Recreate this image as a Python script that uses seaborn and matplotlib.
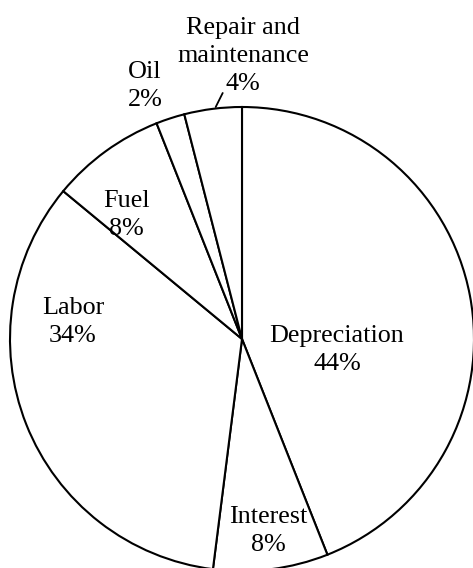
import matplotlib
matplotlib.use("Agg")
import matplotlib.pyplot as plt
import seaborn as sns

# ---- Data ----
CATEGORIES = ["Depreciation", "Interest", "Labor", "Fuel", "Oil", "Repair and\nmaintenance"]
SHARES = [44, 8, 34, 8, 2, 4]

# label block centres (pixel coords, origin bottom-left)
LABEL_POS = [(337, 568 - 350), (268, 568 - 531), (73, 568 - 322),
             (126, 568 - 215), (145, 568 - 86), (243, 568 - 56)]

W, H = 473, 568

sns.set_style("white")
plt.rcParams['font.family'] = ['Liberation Serif', 'DejaVu Serif']

fig = plt.figure(figsize=(W / 100, H / 100), dpi=100)
ax = fig.add_axes([0, 0, 1, 1])

ax.pie(SHARES, startangle=90, counterclock=False,
       center=(242, H - 339), radius=232,
       colors=["white"] * len(SHARES),
       wedgeprops=dict(edgecolor="black", linewidth=1.5))

for cat, val, (x, y) in zip(CATEGORIES, SHARES, LABEL_POS):
    ax.text(x, y, f"{cat}\n{val}%", ha="center", va="center",
            fontsize=18.8, linespacing=1.35, color="black")

# leader line for the small repair slice
ax.plot([215.7, 222.7], [H - 107, H - 93], color="black", linewidth=1.3)

ax.set_xlim(0, W)
ax.set_ylim(0, H)
ax.set_aspect("equal")
ax.axis("off")

fig.savefig("out.png", dpi=100)
